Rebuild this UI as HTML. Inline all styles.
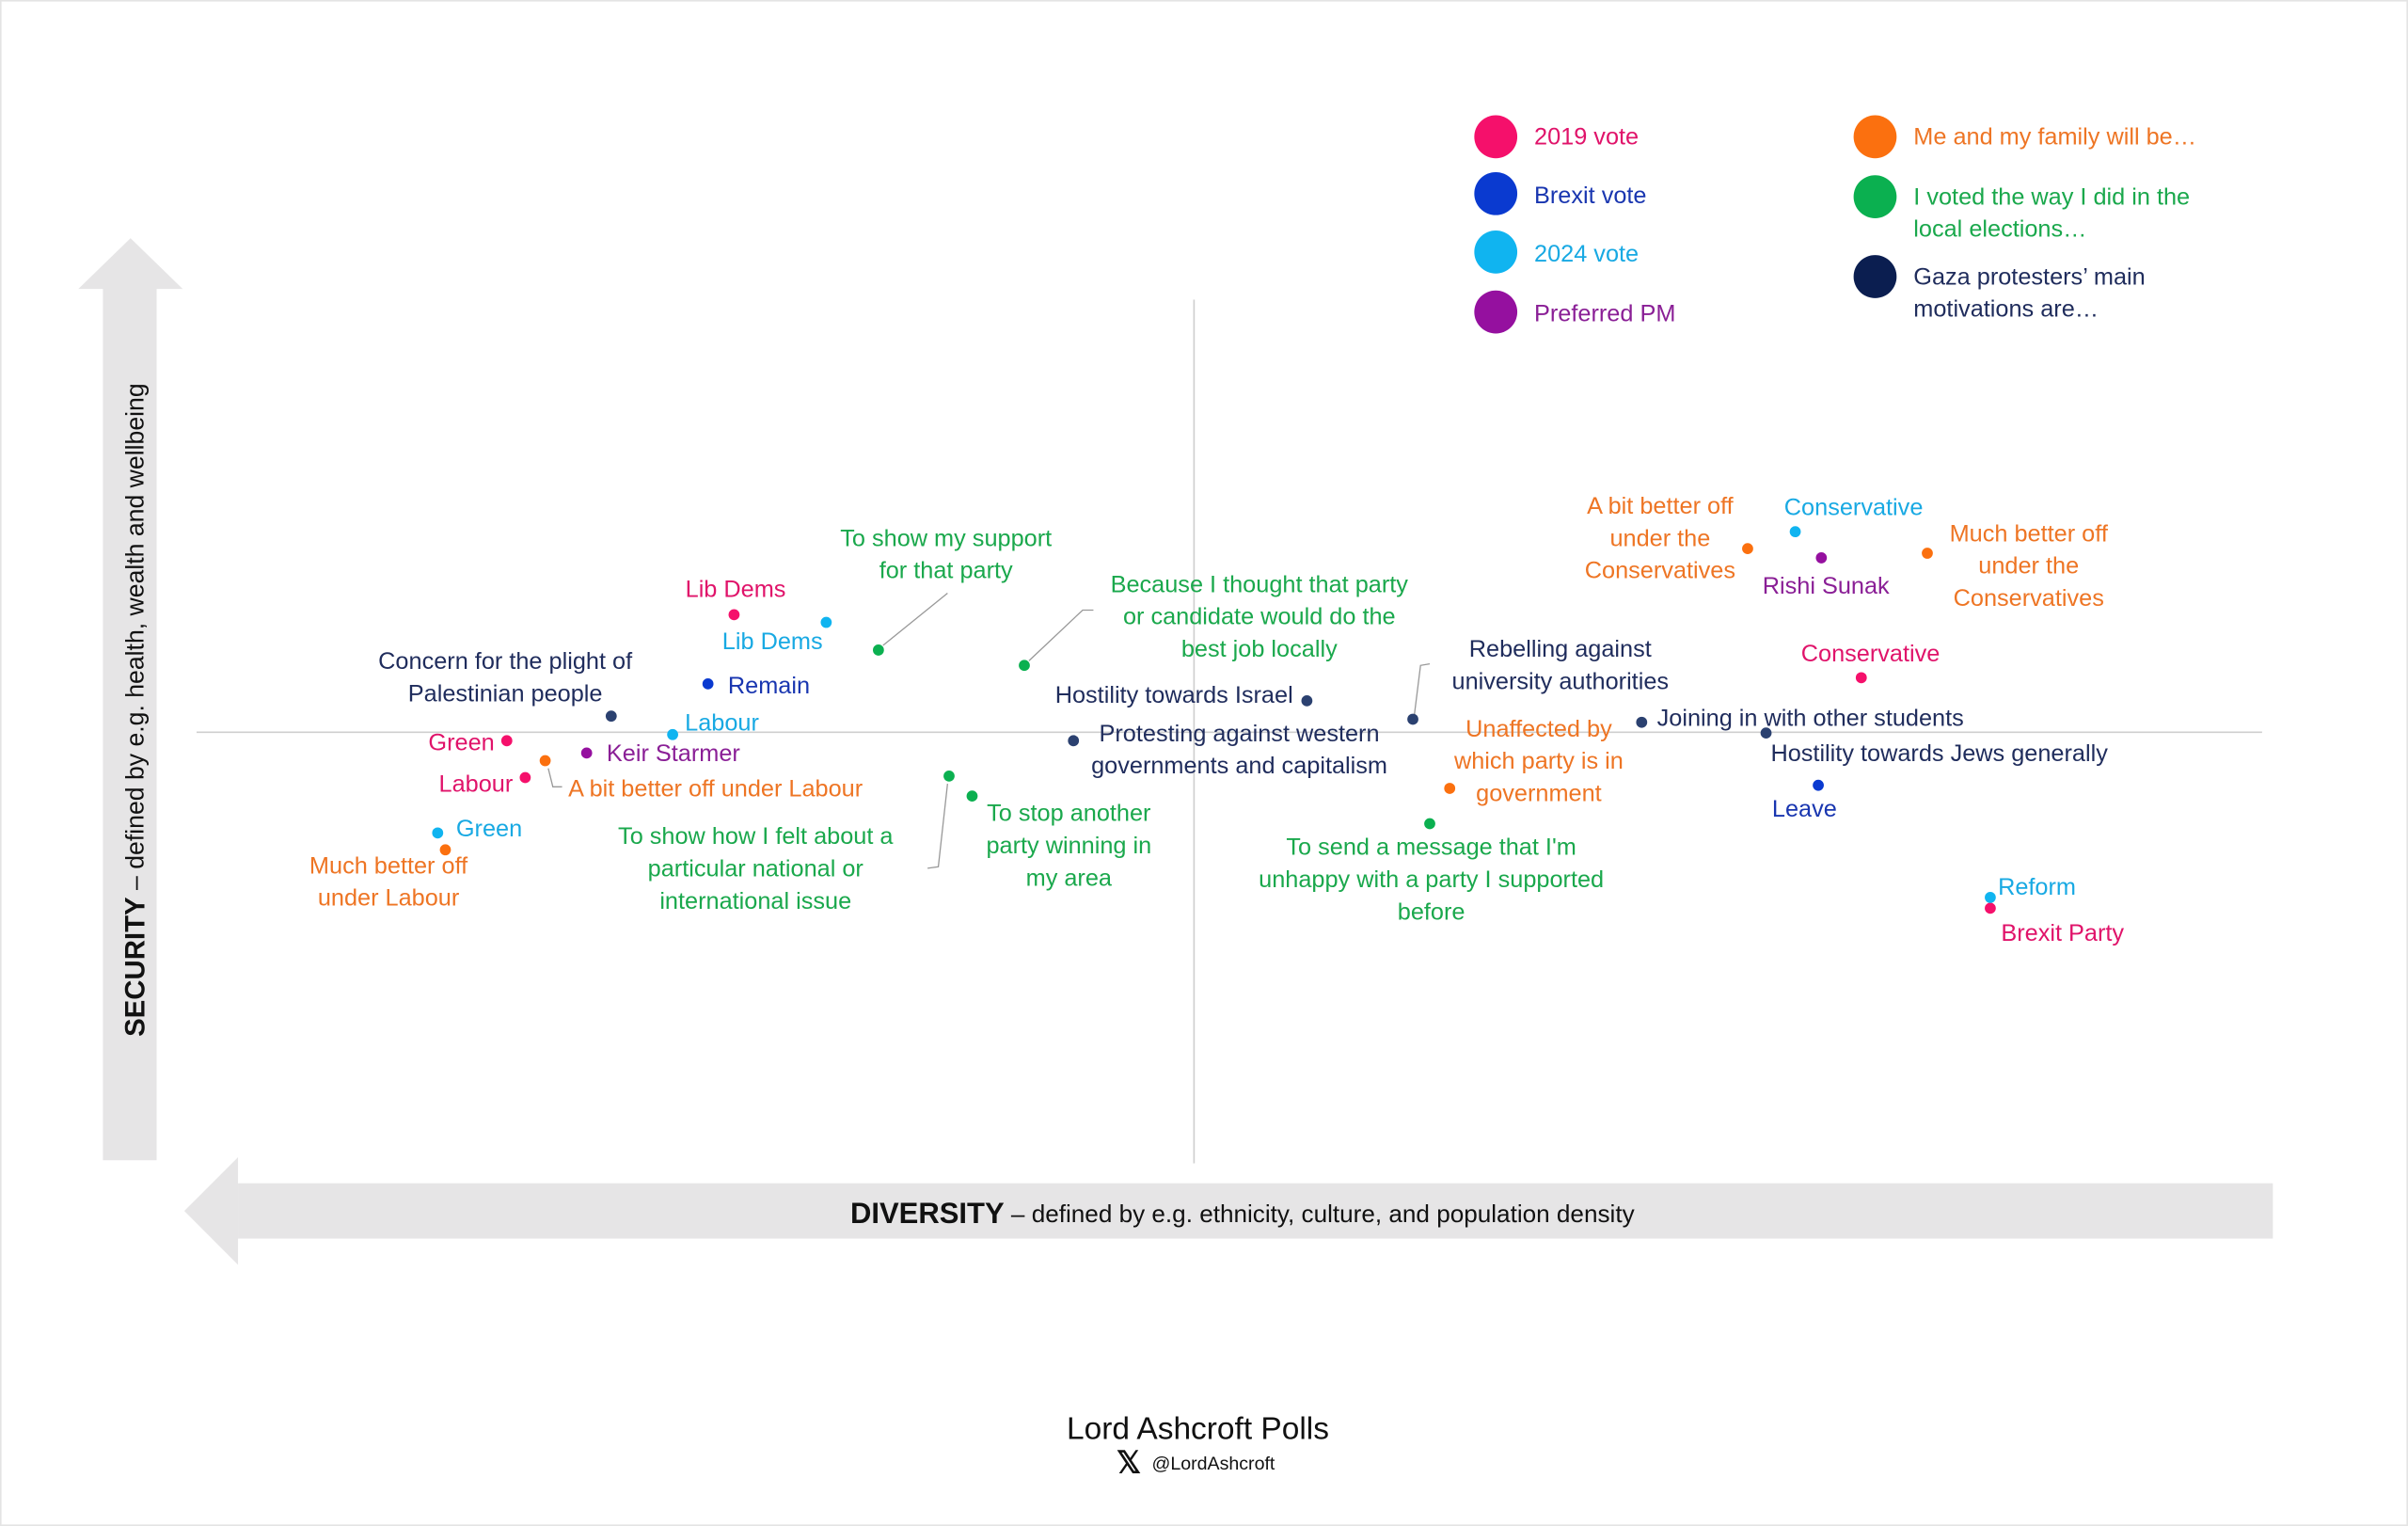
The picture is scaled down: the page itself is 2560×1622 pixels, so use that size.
<!DOCTYPE html>
<html><head><meta charset="utf-8"><style>
html,body{margin:0;padding:0;background:#fff}
svg{display:block}
text{font-family:"Liberation Sans",sans-serif;font-size:15.5px;dominant-baseline:middle}
.pk{fill:#e0136a}.bl{fill:#1936b0}.cy{fill:#18a9e3}.pu{fill:#8a1f96}.or{fill:#ee7524}.gr{fill:#1aa84c}.nv{fill:#1f2c5c}
.m{text-anchor:middle}.e{text-anchor:end}
</style></head><body>
<svg width="2560" height="1622" viewBox="0 0 1568 993" preserveAspectRatio="none" xmlns="http://www.w3.org/2000/svg">
<rect x="0.5" y="0.5" width="1567" height="992" fill="#fff" stroke="#e4e4e4"/>
<!-- arrows -->
<rect x="67" y="187" width="35" height="568" fill="#e6e5e6"/>
<polygon points="85,155 119,188 51,188" fill="#e6e5e6"/>
<rect x="155" y="770" width="1325" height="36" fill="#e6e5e6"/>
<polygon points="120,788 155,753 155,823" fill="#e6e5e6"/>
<text transform="translate(89,462) rotate(-90)" class="m" style="font-size:16.3px;fill:#111"><tspan style="font-weight:bold;font-size:18px">SECURITY</tspan> – defined by e.g. health, wealth and wellbeing</text>
<text x="809" y="791" class="m" style="font-size:16px;fill:#111"><tspan style="font-weight:bold;font-size:19px">DIVERSITY</tspan> – defined by e.g. ethnicity, culture, and population density</text>
<!-- crosshair -->
<line x1="777.5" y1="195" x2="777.5" y2="757" stroke="#cfcfcf" stroke-width="1"/>
<line x1="128" y1="476.5" x2="1473" y2="476.5" stroke="#cfcfcf" stroke-width="1"/>
<!-- legend -->
<g transform="translate(0,1)">
<circle cx="974" cy="88" r="14" fill="#f5106b"/><text x="999" y="89" class="pk">2019 vote</text>
<circle cx="974" cy="125" r="14" fill="#0a3ad0"/><text x="999" y="127" class="bl">Brexit vote</text>
<circle cx="974" cy="163" r="14" fill="#10b4f0"/><text x="999" y="165" class="cy">2024 vote</text>
<circle cx="974" cy="202" r="14" fill="#95109f"/><text x="999" y="204" class="pu">Preferred PM</text>
<circle cx="1221" cy="88" r="14" fill="#fb700f"/><text x="1246" y="89" class="or">Me and my family will be…</text>
<circle cx="1221" cy="127" r="14" fill="#0bb050"/><text x="1246" y="128" class="gr">I voted the way I did in the</text><text x="1246" y="149" class="gr">local elections…</text>
<circle cx="1221" cy="179" r="14" fill="#0b1e50"/><text x="1246" y="180" class="nv">Gaza protesters’ main</text><text x="1246" y="201" class="nv">motivations are…</text>
</g>
<!-- leaders -->
<g stroke="#999" stroke-width="0.8" fill="none">
<polyline points="357,500 360,512 366,512"/>
<polyline points="575,420 617,386"/>
<polyline points="670,430 705,397 712,397"/>
<polyline points="617,510 611,564 604,565"/>
<polyline points="921,465 925,433 931,432"/>
</g>
<!-- dots -->
<g>
<circle cx="478" cy="400" r="3.6" fill="#f5106b"/><circle cx="330" cy="482" r="3.6" fill="#f5106b"/><circle cx="342" cy="506" r="3.6" fill="#f5106b"/><circle cx="1212" cy="441" r="3.6" fill="#f5106b"/><circle cx="1296" cy="591" r="3.6" fill="#f5106b"/>
<circle cx="538" cy="405" r="3.6" fill="#10b4f0"/><circle cx="438" cy="478" r="3.6" fill="#10b4f0"/><circle cx="285" cy="542" r="3.6" fill="#10b4f0"/><circle cx="1169" cy="346" r="3.6" fill="#10b4f0"/><circle cx="1296" cy="584" r="3.6" fill="#10b4f0"/>
<circle cx="461" cy="445" r="3.6" fill="#0a3ad0"/><circle cx="1184" cy="511" r="3.6" fill="#0a3ad0"/>
<circle cx="382" cy="490" r="3.6" fill="#95109f"/><circle cx="1186" cy="363" r="3.6" fill="#95109f"/>
<circle cx="355" cy="495" r="3.6" fill="#fb700f"/><circle cx="290" cy="553" r="3.6" fill="#fb700f"/><circle cx="1138" cy="357" r="3.6" fill="#fb700f"/><circle cx="1255" cy="360" r="3.6" fill="#fb700f"/><circle cx="944" cy="513" r="3.6" fill="#fb700f"/>
<circle cx="572" cy="423" r="3.6" fill="#0bb050"/><circle cx="667" cy="433" r="3.6" fill="#0bb050"/><circle cx="618" cy="505" r="3.6" fill="#0bb050"/><circle cx="633" cy="518" r="3.6" fill="#0bb050"/><circle cx="931" cy="536" r="3.6" fill="#0bb050"/>
<circle cx="398" cy="466" r="3.6" fill="#2b4170"/><circle cx="851" cy="456" r="3.6" fill="#2b4170"/><circle cx="699" cy="482" r="3.6" fill="#2b4170"/><circle cx="920" cy="468" r="3.6" fill="#2b4170"/><circle cx="1069" cy="470" r="3.6" fill="#2b4170"/><circle cx="1150" cy="477" r="3.6" fill="#2b4170"/>
</g>
<!-- labels -->
<g transform="translate(0,1.2)">
<text x="479" y="383" class="pk m">Lib Dems</text>
<text x="322" y="483" class="pk e">Green</text>
<text x="334" y="510" class="pk e">Labour</text>
<text x="1218" y="425" class="pk m">Conservative</text>
<text x="1303" y="607" class="pk">Brexit Party</text>
<text x="503" y="417" class="cy m">Lib Dems</text>
<text x="446" y="470" class="cy">Labour</text>
<text x="297" y="539" class="cy">Green</text>
<text x="1207" y="330" class="cy m">Conservative</text>
<text x="1301" y="577" class="cy">Reform</text>
<text x="474" y="446" class="bl">Remain</text>
<text x="1175" y="526" class="bl m">Leave</text>
<text x="395" y="490" class="pu">Keir Starmer</text>
<text x="1189" y="381" class="pu m">Rishi Sunak</text>
<text x="370" y="513" class="or">A bit better off under Labour</text>
<text x="253" y="563" class="or m">Much better off</text><text x="253" y="584" class="or m">under Labour</text>
<text x="1081" y="329" class="or m">A bit better off</text><text x="1081" y="350" class="or m">under the</text><text x="1081" y="371" class="or m">Conservatives</text>
<text x="1321" y="347" class="or m">Much better off</text><text x="1321" y="368" class="or m">under the</text><text x="1321" y="389" class="or m">Conservatives</text>
<text x="1002" y="474" class="or m">Unaffected by</text><text x="1002" y="495" class="or m">which party is in</text><text x="1002" y="516" class="or m">government</text>
<text x="616" y="350" class="gr m">To show my support</text><text x="616" y="371" class="gr m">for that party</text>
<text x="820" y="380" class="gr m">Because I thought that party</text><text x="820" y="401" class="gr m">or candidate would do the</text><text x="820" y="422" class="gr m">best job locally</text>
<text x="492" y="544" class="gr m">To show how I felt about a</text><text x="492" y="565" class="gr m">particular national or</text><text x="492" y="586" class="gr m">international issue</text>
<text x="696" y="529" class="gr m">To stop another</text><text x="696" y="550" class="gr m">party winning in</text><text x="696" y="571" class="gr m">my area</text>
<text x="932" y="551" class="gr m">To send a message that I'm</text><text x="932" y="572" class="gr m">unhappy with a party I supported</text><text x="932" y="593" class="gr m">before</text>
<text x="329" y="430" class="nv m">Concern for the plight of</text><text x="329" y="451" class="nv m">Palestinian people</text>
<text x="842" y="452" class="nv e">Hostility towards Israel</text>
<text x="807" y="477" class="nv m">Protesting against western</text><text x="807" y="498" class="nv m">governments and capitalism</text>
<text x="1016" y="422" class="nv m">Rebelling against</text><text x="1016" y="443" class="nv m">university authorities</text>
<text x="1079" y="467" class="nv">Joining in with other students</text>
<text x="1153" y="490" class="nv">Hostility towards Jews generally</text>
</g>
<!-- footer -->
<text x="780" y="931" class="m" style="font-size:20.5px;fill:#111">Lord Ashcroft Polls</text>
<text x="735" y="953" class="m" style="font-size:20px;fill:#111;font-weight:bold">𝕏</text>
<text x="750" y="953" style="font-size:12px;fill:#111">@LordAshcroft</text>
</svg>
</body></html>
